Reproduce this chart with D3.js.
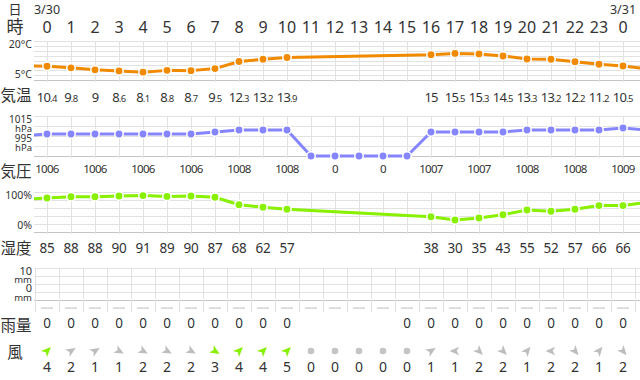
<!DOCTYPE html>
<html><head><meta charset="utf-8">
<script src="https://cdn.jsdelivr.net/npm/d3@7"></script>
<style>
html,body{margin:0;padding:0;background:#fff;}
svg{display:block;font-family:"Noto Sans","Noto Sans CJK JP",sans-serif;}
.kanji{font-family:"Noto Sans CJK JP",sans-serif;}
</style></head>
<body>
<svg id="c" width="640" height="380"></svg>
<script>
// ---- data (index 0 = hour -1, last = hour 25; partially visible at edges)
const hours = d3.range(-1, 26);
const hourLabels = ["0","1","2","3","4","5","6","7","8","9","10","11","12","13","14","15","16","17","18","19","20","21","22","23","0"];
const dates = [{h:0, t:"3/30"}, {h:24, t:"3/31"}];
const temp = [10.6, 10.4,9.8,9,8.6,8.1,8.8,8.7,9.5,12.3,13.2,13.9, null,null,null,null,null, 15,15.5,15.3,14.5,13.3,13.2,12.2,11.2,10.5, 9.4];
const pressure = [1005, 1006,1006,1006,1006,1006,1006,1006,1007,1008,1008,1008, 0,0,0,0,0, 1007,1007,1007,1007,1008,1008,1008,1008,1009, 1008];
const humidity = [82, 85,88,88,90,91,89,90,87,68,62,57, null,null,null,null,null, 38,30,35,43,55,52,57,66,66, 74];
const rain = [null, 0,0,0,0,0,0,0,0,0,0,0, null,null,null,null, 0,0,0,0,0,0,0,0,0,0, null];
const windSpeed = [null, 4,2,1,1,2,2,2,3,4,4,5, 0,0,0,0,0, 1,1,2,2,1,2,2,1,2, null];
const windDir = [null, 45,58,58,118,118,118,118,122,45,45,45, null,null,null,null,null, 58,270,135,135,40,270,140,40,140, null];
const tempTicks = [{v:20,t:"20°C"},{v:5,t:"5°C"}];
const presTicks = [{v:1015,t:["1015","hPa"]},{v:995,t:["995","hPa"]}];
const humTicks = [{v:100,t:"100%"},{v:0,t:"0%"}];
const rainTicks = [{v:10,t:["10","mm"]},{v:0,t:["0","mm"]}];

const svg = d3.select("#c");
const W = 640, L = 34;
const x = d3.scaleLinear().domain([0, 24]).range([47, 623]);
const txt = "#333", grid = "#e2e2e2", base = "#c4c4c4";
const cTemp = "#f08a00", cPres = "#8585ff", cHum = "#88f000";

svg.append("defs").append("clipPath").attr("id","clp")
  .append("rect").attr("x", L).attr("y", 0).attr("width", W - L).attr("height", 380);

// header
svg.append("text").attr("class","kanji").attr("x", 15).attr("y", 13.5).attr("text-anchor","middle")
  .attr("font-size", 13).attr("fill", txt).text("日");
svg.selectAll("text.date").data(dates).join("text").attr("class","date")
  .attr("x", d => x(d.h)).attr("y", 13.5).attr("text-anchor","middle").attr("font-size", 12.5).attr("fill", txt).text(d => d.t);
svg.append("text").attr("class","kanji").attr("x", 15).attr("y", 33).attr("text-anchor","middle")
  .attr("font-size", 17).attr("fill", txt).text("時");
svg.selectAll("text.hr").data(hourLabels).join("text").attr("class","hr")
  .attr("x", (d,i) => x(i)).attr("y", 33).attr("text-anchor","middle").attr("font-size", 16).attr("fill", txt).text(d => d);

// row labels
[["気温",101],["気圧",177],["湿度",254],["雨量",331],["風",358]].forEach(([t,y]) => {
  svg.append("text").attr("class","kanji").attr("x", t.length > 1 ? 16 : 15).attr("y", y).attr("text-anchor","middle")
    .attr("font-size", 15.5).attr("fill", txt).text(t);
});

function hGrid(ys){
  ys.forEach((y,i) => svg.append("line").attr("x1", L).attr("x2", W).attr("y1", y).attr("y2", y)
    .attr("stroke", i === ys.length-1 ? base : grid).attr("stroke-width", 1));
}
function vGrid(xs, y1, y2){
  svg.append("g").selectAll("line").data(xs).join("line")
    .attr("x1", d => d).attr("x2", d => d).attr("y1", y1).attr("y2", y2)
    .attr("stroke", grid).attr("stroke-width", 1);
}
const colXs = d3.range(0, 26).map(h => Math.round(x(h)) + 0.5).filter(v => v < W);

function lineChart(values, yScale, color){
  const pts = hours.map((h,i) => ({h, v: values[i]})).filter(d => d.v !== null);
  const g = svg.append("g").attr("clip-path","url(#clp)");
  g.append("path").datum(pts)
    .attr("d", d3.line().x(d => x(d.h)).y(d => yScale(d.v)))
    .attr("fill","none").attr("stroke", color).attr("stroke-width", 3).attr("stroke-linejoin","round");
  g.selectAll("circle").data(pts.filter(d => d.h >= 0 && d.h <= 24)).join("circle")
    .attr("cx", d => x(d.h)).attr("cy", d => yScale(d.v)).attr("r", 4.2)
    .attr("fill", color).attr("stroke", "#fff").attr("stroke-width", 1.5);
}
// one text element holding the stacked two-line tick labels of an axis
function stackedTicks(ticks, y0, step, sizes){
  const t = svg.append("text").attr("text-anchor","end").attr("fill", txt);
  let first = true;
  ticks.forEach(d => d.t.forEach((s,j) => {
    t.append("tspan").attr("x", 32).attr(first ? "y" : "dy", first ? y0 : step)
      .attr("font-size", sizes[j]).text(s);
    first = false;
  }));
}

// ---- temperature
const yT = d3.scaleLinear().domain([5, 20]).range([80, 42]).clamp(true);
hGrid(d3.range(9).map(i => Math.round(41 + i * 39 / 8) + 0.5));
vGrid(colXs, 41, 82);
svg.selectAll("text.tt").data(tempTicks).join("text").attr("class","tt")
  .attr("x", 32).attr("y", (d,i) => i === 0 ? 48 : 77.5).attr("text-anchor","end").attr("font-size", 10.5).attr("fill", txt).text(d => d.t);
lineChart(temp, yT, cTemp);
const tLab = svg.append("g");
hours.forEach((h,i) => {
  const v = temp[i];
  if (v === null || h < 0 || h > 24) return;
  const s = String(v).split(".");
  const t = tLab.append("text").attr("x", x(h)).attr("y", 102).attr("text-anchor","middle").attr("fill", txt);
  t.append("tspan").attr("font-size", 13).attr("letter-spacing", -0.9).text(s[0]);
  if (s[1]) t.append("tspan").attr("font-size", 9.5).attr("letter-spacing", -0.4).text("." + s[1]);
});

// ---- pressure
const yP = d3.scaleLinear().domain([995, 1015]).range([156, 116]).clamp(true);
hGrid([116.5, 126.5, 136.5, 146.5, 156.5]);
vGrid(colXs, 116, 158);
stackedTicks(presTicks, 122.5, 9.6, [10, 9.5]);
lineChart(pressure, yP, cPres);
svg.append("g").selectAll("text").data(hours.map((h,i) => ({h, v: pressure[i]})).filter(d => d.h >= 0 && d.h <= 24 && d.h % 2 === 0))
  .join("text").attr("x", d => x(d.h)).attr("y", 173).attr("text-anchor","middle").attr("font-size", 11.5)
  .attr("letter-spacing", -0.7).attr("fill", txt).text(d => d.v);

// ---- humidity
const yH = d3.scaleLinear().domain([0, 100]).range([232, 192]).clamp(true);
hGrid([192.5, 200.5, 208.5, 216.5, 224.5, 232.5]);
vGrid(colXs, 192, 234);
svg.selectAll("text.ht").data(humTicks).join("text").attr("class","ht")
  .attr("x", 32).attr("y", (d,i) => i === 0 ? 199 : 229).attr("text-anchor","end").attr("font-size", 10.5).attr("fill", txt).text(d => d.t);
lineChart(humidity, yH, cHum);
svg.append("g").selectAll("text").data(hours.map((h,i) => ({h, v: humidity[i]})).filter(d => d.h >= 0 && d.h <= 24 && d.v !== null))
  .join("text").attr("x", d => x(d.h)).attr("y", 253).attr("text-anchor","middle").attr("font-size", 13.5)
  .attr("letter-spacing", -0.3).attr("fill", txt).text(d => d.v);

// ---- rain
const yR = d3.scaleLinear().domain([0, 10]).range([308, 268]).clamp(true);
hGrid([268.5, 276.5, 284.5, 292.5, 300.5]);
vGrid(d3.range(0, 26).map(h => Math.round(x(h) - 12) + 0.5).filter(v => v < W && v > L), 268, 312);
stackedTicks(rainTicks, 274.5, 8.8, [11, 9.5]);
// zero-height bars drawn as baseline stubs
svg.append("g").selectAll("rect").data(d3.range(0, 25))
  .join("rect").attr("x", h => x(h) - 6).attr("width", 12)
  .attr("y", h => Math.min(yR(rain[h+1] || 0), 307.5)).attr("height", h => Math.max(308.5 - yR(rain[h+1] || 0), 1.2))
  .attr("fill", "#c8c8c8");
svg.append("g").selectAll("text").data(hours.map((h,i) => ({h, v: rain[i]})).filter(d => d.v !== null))
  .join("text").attr("x", d => x(d.h)).attr("y", 328).attr("text-anchor","middle").attr("font-size", 13.5)
  .attr("fill", txt).text(d => d.v);

// ---- wind
const arrow = "M0,-5.5 L4.3,4.2 L0,1.7 L-4.3,4.2 Z";
const wg = svg.append("g");
hours.forEach((h,i) => {
  const s = windSpeed[i];
  if (s === null) return;
  const col = s >= 3 ? cHum : "#bdbdbd";
  if (s === 0) {
    wg.append("circle").attr("cx", x(h)).attr("cy", 351).attr("r", 3.3).attr("fill", "#c4c4c4");
  } else {
    wg.append("path").attr("d", arrow).attr("fill", col)
      .attr("transform", `translate(${x(h)},351) rotate(${windDir[i]})`);
  }
  wg.append("text").attr("x", x(h)).attr("y", 372).attr("text-anchor","middle").attr("font-size", 14)
    .attr("fill", txt).text(s);
});
</script>
</body></html>
